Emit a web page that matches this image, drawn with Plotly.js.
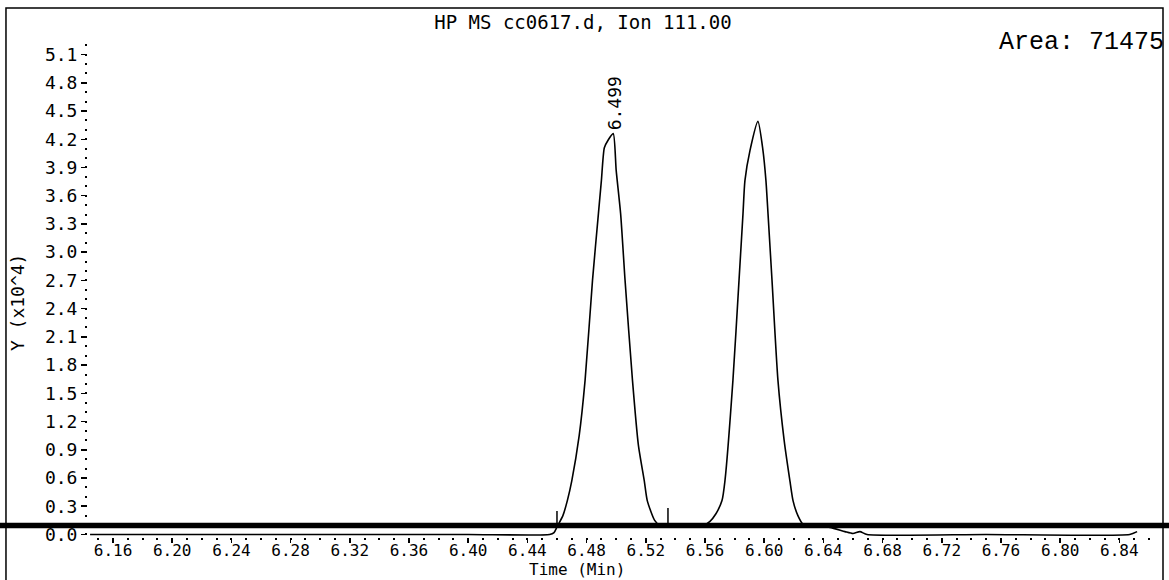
<!DOCTYPE html>
<html>
<head>
<meta charset="utf-8">
<script src="https://cdn.plot.ly/plotly-3.0.1.min.js"></script>
<style>html,body{margin:0;padding:0;background:#fff;}#chart{width:1169px;height:580px;}</style>
</head>
<body>
<div id="chart"></div>
<script>
// Chromatogram trace (time in min, abundance in x10^4)
const timeMin = [6.1445, 6.200, 6.300, 6.400, 6.455, 6.458, 6.460, 6.464, 6.467, 6.470, 6.475, 6.479, 6.484, 6.488, 6.490, 6.492, 6.4945, 6.498, 6.500, 6.503, 6.506, 6.511, 6.515, 6.519, 6.521, 6.526, 6.530, 6.540, 6.550, 6.5587, 6.5634, 6.5674, 6.5715, 6.5735, 6.5789, 6.583, 6.5857, 6.587, 6.5904, 6.5958, 6.5992, 6.6012, 6.6026, 6.6053, 6.6093, 6.6135, 6.6174, 6.6195, 6.6228, 6.6262, 6.635, 6.6445, 6.6546, 6.660, 6.6647, 6.6695, 6.750, 6.847, 6.852];
const abundance = [0, 0, 0, 0, 0, 0.02, 0.08, 0.20, 0.36, 0.57, 1.05, 1.64, 2.70, 3.41, 3.76, 4.11, 4.19, 4.26, 3.87, 3.41, 2.70, 1.64, 0.95, 0.57, 0.36, 0.15, 0.09, 0.09, 0.09, 0.095, 0.14, 0.22, 0.36, 0.57, 1.64, 2.70, 3.41, 3.76, 4.08, 4.39, 4.08, 3.76, 3.41, 2.70, 1.64, 1.00, 0.57, 0.36, 0.20, 0.11, 0.09, 0.075, 0.03, 0.01, 0.03, 0, 0, 0, 0.03];

// Labelled peak
const peakTimes = [6.499];
const peakHeights = [4.26];
const peakLabels = ["6.499"];

// Integration markers
const integTimes = [6.460, 6.535];
const integTops = [0.25, 0.28];
const baselineLevel = 0.095;

// Axis ticks
const xTickVals = [6.16, 6.20, 6.24, 6.28, 6.32, 6.36, 6.40, 6.44, 6.48, 6.52, 6.56, 6.60, 6.64, 6.68, 6.72, 6.76, 6.80, 6.84];
const xTickText = ["6.16", "6.20", "6.24", "6.28", "6.32", "6.36", "6.40", "6.44", "6.48", "6.52", "6.56", "6.60", "6.64", "6.68", "6.72", "6.76", "6.80", "6.84"];
const yTickVals = [0, 0.3, 0.6, 0.9, 1.2, 1.5, 1.8, 2.1, 2.4, 2.7, 3.0, 3.3, 3.6, 3.9, 4.2, 4.5, 4.8, 5.1];
const yTickText = ["0.0", "0.3", "0.6", "0.9", "1.2", "1.5", "1.8", "2.1", "2.4", "2.7", "3.0", "3.3", "3.6", "3.9", "4.2", "4.5", "4.8", "5.1"];
const yMinorStep = 0.1;
const yMinorMax = 5.2;

const titleText = "HP MS cc0617.d, Ion 111.00";
const xTitleText = "Time (Min)";
const yTitleText = "Y (x10^4)";
const areaText = "Area: 71475";

const mono = "DejaVu Sans Mono";

const yMinorVals = [];
for (let k = 0; k * yMinorStep <= yMinorMax + 1e-9; k++) yMinorVals.push(+(k * yMinorStep).toFixed(2));

const shapes = [
  // frame
  {type: "rect", xref: "paper", yref: "paper", x0: -0.0763, x1: 1.0, y0: -0.09, y1: 1.0,
   line: {color: "#000", width: 1.5}, fillcolor: "rgba(0,0,0,0)", layer: "above"},
  // thick baseline across the page
  {type: "line", xref: "paper", yref: "y", x0: -0.09, x1: 1.01, y0: baselineLevel, y1: baselineLevel,
   line: {color: "#000", width: 5.5}, layer: "above"}
];
integTimes.forEach((t, i) => {
  shapes.push({type: "line", xref: "x", yref: "y", x0: t, x1: t, y0: baselineLevel, y1: integTops[i],
    line: {color: "#000", width: 1.5}, layer: "above"});
});

const annotations = [
  {xref: "paper", yref: "paper", x: 1.0028, y: 0.934, xanchor: "right", yanchor: "middle",
   text: areaText, showarrow: false, font: {family: "Liberation Mono, Courier New, monospace", size: 25, color: "#000"}},
  // x-axis title
  {xref: "paper", yref: "paper", x: 0.455, y: -0.0813, xanchor: "center", yanchor: "bottom",
   text: xTitleText, showarrow: false, borderpad: 0, font: {family: mono, size: 16, color: "#000"}},
  // y-axis title
  {xref: "paper", yref: "paper", x: -0.0656, y: 0.445, xanchor: "center", yanchor: "middle",
   text: yTitleText, textangle: -90, showarrow: false, font: {family: mono, size: 18, color: "#000"}}
];
peakTimes.forEach((t, i) => {
  annotations.push({xref: "x", yref: "y", x: t, y: peakHeights[i], xanchor: "center", yanchor: "bottom",
    text: peakLabels[i], textangle: -90, showarrow: false, yshift: 1,
    font: {family: mono, size: 18, color: "#000"}});
});

const trace = {
  x: timeMin, y: abundance, type: "scatter", mode: "lines",
  line: {color: "#000", width: 1.6, shape: "spline", smoothing: 0.6},
  hoverinfo: "skip", showlegend: false
};

const layout = {
  width: 1169, height: 580,
  margin: {l: 88, r: 6, t: 8, b: 43, pad: 0},
  paper_bgcolor: "#fff", plot_bgcolor: "#fff",
  font: {family: mono, size: 18, color: "#000"},
  title: {text: titleText, x: 0.4987, xanchor: "center", y: 0.962, yanchor: "middle", yref: "container",
          font: {family: mono, size: 19, color: "#000"}},
  xaxis: {
    range: [6.1431, 6.8695], showgrid: false, zeroline: false, showline: false,
    tickmode: "array", tickvals: xTickVals, ticktext: xTickText,
    ticks: "outside", ticklen: 5, tickwidth: 1.5, tickcolor: "#000", ticklabelstandoff: -6,
    tickfont: {family: mono, size: 16, color: "#000"},
    minor: {dtick: 0.01, tick0: 6.16, ticks: "outside", ticklen: 2, tickwidth: 2, tickcolor: "#000", showgrid: false}
  },
  yaxis: {
    range: [-0.027, 5.595], showgrid: false, zeroline: false, showline: false,
    tickmode: "array", tickvals: yTickVals, ticktext: yTickText,
    ticks: "outside", ticklen: 6, tickwidth: 1.5, tickcolor: "#000",
    tickfont: {family: mono, size: 18, color: "#000"},
    minor: {tickmode: "array", tickvals: yMinorVals, ticks: "outside", ticklen: 2, tickwidth: 2, tickcolor: "#000", showgrid: false}
  },
  shapes: shapes,
  annotations: annotations
};

Plotly.newPlot("chart", [trace], layout, {staticPlot: true, displayModeBar: false});
</script>
</body>
</html>
